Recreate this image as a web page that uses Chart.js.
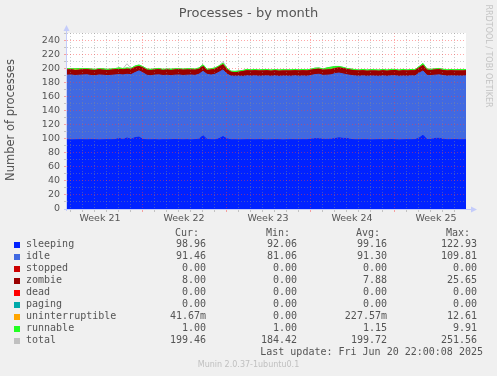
<!DOCTYPE html>
<html>
<head>
<meta charset="utf-8">
<script src="https://cdn.jsdelivr.net/npm/chart.js@4.4.1/dist/chart.umd.min.js"></script>
<style>
  html, body { margin: 0; padding: 0; background: #f0f0f0; }
  #wrap { position: relative; width: 497px; height: 376px; overflow: hidden; }
  #chart { position: absolute; left: 0; top: 0; }
  .txt { position: absolute; white-space: pre; color: #555; font-family: "DejaVu Sans", sans-serif; }
  .mono { font-family: "DejaVu Sans Mono", monospace; font-size: 10px; line-height: 12px; }
  .sq { position: absolute; width: 6px; height: 6px; }
</style>
</head>
<body>
<div id="wrap">
  <canvas id="chart" width="497" height="376"></canvas>
  <div class="txt" style="left:0;width:497px;top:5px;text-align:center;font-size:13px;line-height:16px;">Processes - by month</div>
  <div class="txt" style="left:-90px;width:200px;top:113px;text-align:center;font-size:11.5px;line-height:14px;transform:rotate(-90deg);">Number of processes</div>
  <div class="txt" style="left:428px;width:120px;top:51px;text-align:center;font-size:8px;line-height:10px;color:#c4c4c4;transform:rotate(90deg);">RRDTOOL / TOBI OETIKER</div>
  <div class="txt" style="left:0;width:497px;top:360px;text-align:center;font-size:8px;line-height:10px;color:#c0c0c0;">Munin 2.0.37-1ubuntu0.1</div>
  <div id="legend"></div>
</div>
<script>
// samples every 8 hours, x in days since Mon 19 May 2025 (start of week 21)
const START_DAY = 0.75;
const STEP_DAYS = 1 / 3;

const WEEK_LABELS = ["Week 21", "Week 22", "Week 23", "Week 24", "Week 25"];

const SLEEPING = [
  98.9, 98.7, 98.8, 99.0, 98.9, 98.8, 99.0, 98.9, 98.7, 98.8, 99.0, 98.9, 99.1,
  100.6, 99.3, 101.4, 99.5, 101.9, 102.7, 99.4,
  98.9, 98.8, 99.0, 98.7, 98.9, 98.8, 99.0, 99.2, 98.9, 98.8, 99.0, 98.7, 99.1, 99.6,
  104.8, 99.4, 98.9, 98.8, 100.4, 103.4, 100.1, 98.8,
  98.9, 98.7, 98.8, 99.0, 98.9, 98.8, 99.0, 98.9, 98.7, 98.8, 99.0, 98.9, 98.7, 98.8, 99.0, 98.9, 98.8, 99.0, 98.9,
  99.6, 100.4, 100.2, 99.5, 99.4, 99.6, 100.6, 101.6, 100.9, 100.7, 99.3, 98.9,
  98.8, 99.0, 98.9, 98.7, 98.8, 99.0, 98.9, 98.8, 99.2, 98.9, 98.7, 98.8, 99.0, 98.9, 99.1,
  101.2, 105.3, 99.2, 99.4, 100.8, 100.9, 99.6, 99.0, 98.9, 99.1, 98.8, 98.9, 99.0
];
const IDLE = [
  92.4, 92.8, 91.9, 92.1, 92.6, 92.9, 91.7, 91.5, 92.8, 92.3, 91.6, 92.0, 92.4,
  91.4, 92.2, 91.0, 92.4, 92.9, 94.6, 95.1,
  92.1, 91.6, 92.4, 92.9, 91.8, 92.3, 91.5, 92.0, 92.6, 91.9, 92.2, 92.7, 91.8, 92.9,
  91.9, 93.0, 92.4, 93.6, 95.0, 95.3, 92.6, 91.0,
  90.8, 91.1, 90.6, 91.3, 90.9, 91.4, 90.7, 91.0, 91.5, 90.8, 91.2, 90.6, 91.3, 91.0, 90.7, 91.4, 90.9, 91.1, 90.8,
  91.2, 91.6, 92.3, 91.4, 91.8, 92.0, 92.8, 92.6, 92.1, 91.0, 91.5, 91.2,
  90.9, 91.2, 90.7, 91.4, 91.0, 90.6, 91.3, 90.8, 91.1, 91.5, 90.9, 91.2, 90.7, 91.3, 91.0,
  92.8, 91.9, 91.7, 91.2, 90.4, 90.7, 91.1, 90.8, 91.3, 90.9, 91.2, 91.0, 91.4
];
const STOPPED = [
  0, 0, 0, 0, 0, 0, 0, 0, 0, 0, 0, 0, 0, 0, 0, 0, 0, 0, 0, 0, 0,
  0, 0, 0, 0, 0, 0, 0, 0, 0, 0, 0, 0, 0, 0, 0, 0, 0, 0, 0, 0,
  0, 0, 0, 0, 0, 0, 0, 0, 0, 0, 0, 0, 0, 0, 0, 0, 0, 0, 0, 0,
  0, 0, 0, 0, 0, 0, 0, 0, 0, 0, 0, 0, 0, 0, 0, 0, 0, 0, 0, 0,
  0, 0, 0, 0, 0, 0, 0, 0, 0, 0, 0, 0, 0, 0, 0, 0, 0, 0, 0, 0
];
const ZOMBIE = [
  8, 8, 8, 7.8, 8, 8, 8.2, 8, 8, 7.9, 8, 8, 8, 8, 8.1, 8, 8, 8, 6.9, 7.5, 8,
  8, 8, 8, 7.8, 8, 8, 8, 8, 8.2, 8, 8, 7.9, 8, 8, 6.2, 8, 8, 8, 7.9, 6.8,
  6.1, 5.8, 6.4, 7.6, 8, 8, 8, 8, 8, 7.9, 8, 8, 8, 8, 8.1, 8, 8, 8, 8, 8,
  8, 8, 8, 7.9, 8, 8, 8, 8, 8.3, 8.1, 8, 8, 8, 8, 8, 7.8, 8, 8, 8, 8,
  8, 8, 8, 8.2, 8, 8, 8, 8, 8.6, 8, 8, 8, 8, 8, 7.9, 8, 8, 8, 8, 8
];
const DEAD = [
  0, 0, 0, 0, 0, 0, 0, 0, 0, 0, 0, 0, 0, 0, 0, 0, 0, 0, 0, 0, 0,
  0, 0, 0, 0, 0, 0, 0, 0, 0, 0, 0, 0, 0, 0, 0, 0, 0, 0, 0, 0,
  0, 0, 0, 0, 0, 0, 0, 0, 0, 0, 0, 0, 0, 0, 0, 0, 0, 0, 0, 0,
  0, 0, 0, 0, 0, 0, 0, 0, 0, 0, 0, 0, 0, 0, 0, 0, 0, 0, 0, 0,
  0, 0, 0, 0, 0, 0, 0, 0, 0, 0, 0, 0, 0, 0, 0, 0, 0, 0, 0, 0
];
const PAGING = [
  0, 0, 0, 0, 0, 0, 0, 0, 0, 0, 0, 0, 0, 0, 0, 0, 0, 0, 0, 0, 0,
  0, 0, 0, 0, 0, 0, 0, 0, 0, 0, 0, 0, 0, 0, 0, 0, 0, 0, 0, 0,
  0, 0, 0, 0, 0, 0, 0, 0, 0, 0, 0, 0, 0, 0, 0, 0, 0, 0, 0, 0,
  0, 0, 0, 0, 0, 0, 0, 0, 0, 0, 0, 0, 0, 0, 0, 0, 0, 0, 0, 0,
  0, 0, 0, 0, 0, 0, 0, 0, 0, 0, 0, 0, 0, 0, 0, 0, 0, 0, 0, 0
];
const UNINTERRUPTIBLE = [
  0, 0, 0.6, 0.4, 0, 0, 0, 0, 0, 0, 0, 0, 0, 0, 0, 0, 0, 0.3, 0, 0, 0,
  0, 0, 0, 0, 0, 0, 0, 0, 0, 0, 0, 0, 0, 0, 0, 0, 0, 0, 0.5, 0,
  0, 0, 0, 0, 0, 0, 0, 0, 0, 0, 0, 0, 0, 0, 0, 0, 0, 0, 0, 0,
  0, 0, 0, 0, 0, 0.2, 0, 0, 0, 0, 0, 0, 0, 0, 0, 0, 0, 0, 0, 0,
  0, 0, 0, 0, 0, 0, 0, 0, 0.4, 0, 0, 0, 0, 0, 0, 0, 0, 0, 0, 0
];
const RUNNABLE = [
  1.2, 1.0, 1.1, 1.3, 1.0, 1.0, 1.2, 1.1, 1.0, 1.4, 1.0, 1.1, 1.0, 1.6, 1.0, 1.2, 1.0, 1.1, 1.5, 1.3, 1.0,
  1.1, 1.0, 1.2, 1.0, 1.0, 1.3, 1.1, 1.0, 1.0, 1.2, 1.0, 1.1, 1.0, 1.4, 1.1, 1.0, 1.2, 1.0, 1.3, 1.5,
  1.0, 1.1, 1.0, 1.0, 1.2, 1.0, 1.1, 1.0, 1.3, 1.0, 1.0, 1.1, 1.2, 1.0, 1.0, 1.1, 1.0, 1.2, 1.0, 1.1,
  1.0, 1.2, 1.0, 1.1, 2.4, 2.8, 2.2, 1.4, 1.1, 1.0, 1.2, 1.0, 1.0, 1.1, 1.0, 1.3, 1.0, 1.0, 1.2, 1.0,
  1.1, 1.0, 1.0, 1.2, 1.0, 1.1, 1.0, 1.3, 1.6, 1.1, 1.0, 1.0, 1.2, 1.0, 1.1, 1.0, 1.0, 1.2, 1.0, 1.1
];
const TOTAL = [
  200.5, 200.5, 200.4, 200.6, 200.5, 200.7, 200.1, 199.5, 200.5, 200.4, 199.6, 200.0, 200.5,
  201.6, 200.6, 207.5, 200.9, 204.2, 205.7, 203.3,
  200.0, 199.5, 200.4, 200.8, 199.5, 200.1, 199.8, 200.3, 200.5, 199.9, 200.4, 200.4, 199.9, 201.5,
  206.1, 199.7, 200.3, 201.6, 204.4, 210.8, 201.0, 196.9,
  196.6, 197.2, 198.0, 199.5, 198.8, 199.3, 198.7, 199.2, 199.1, 198.6, 199.3, 198.7, 199.0, 198.9, 198.8, 199.3, 198.9, 199.1, 198.8,
  199.8, 201.2, 201.5, 199.9, 201.6, 202.6, 203.6, 203.6, 202.4, 200.8, 200.0, 199.1,
  198.7, 199.3, 198.6, 199.2, 198.8, 198.6, 199.4, 198.6, 199.4, 199.4, 198.6, 199.4, 198.7, 199.3, 199.1,
  203.3, 207.8, 200.0, 199.6, 200.2, 200.8, 199.7, 198.8, 199.2, 199.0, 199.2, 198.9, 199.5
];

const NAMES = ["sleeping", "idle", "stopped", "zombie", "dead", "paging", "uninterruptible", "runnable", "total"];
const COLORS = ["#0022ff", "#4169e1", "#cc0000", "#990000", "#ff0000", "#00aaaa", "#ffa500", "#22ff22", "#c0c0c0"];
const CUR = ["98.96", "91.46", "0.00", "8.00", "0.00", "0.00", "41.67m", "1.00", "199.46"];
const MIN = ["92.06", "81.06", "0.00", "0.00", "0.00", "0.00", "0.00", "1.00", "184.42"];
const AVG = ["99.16", "91.30", "0.00", "7.88", "0.00", "0.00", "227.57m", "1.15", "199.72"];
const MAX = ["122.93", "109.81", "0.00", "25.65", "0.00", "0.00", "12.61", "9.91", "251.56"];

const RED_GRID = "rgba(255, 60, 60, 0.45)";
const GREY_GRID = "rgba(140, 140, 140, 0.45)";
const AXIS_COLOR = "#c4ccfa";

function toPoints(values) {
  return values.map((v, i) => ({ x: START_DAY + i * STEP_DAYS, y: v }));
}

function drawLegend() {
  let html = "";
  const rightCols = [206, 297, 387, 477];
  const heads = ["Cur:", "Min:", "Avg:", "Max:"];
  heads.forEach((h, k) => {
    html += `<div class="txt mono" style="top:227px;right:${497 - rightCols[k] + 7}px;">${h}</div>`;
  });
  NAMES.forEach((name, i) => {
    const top = 238 + i * 12;
    html += `<div class="sq" style="left:14px;top:${top + 4}px;background:${COLORS[i]};"></div>`;
    html += `<div class="txt mono" style="top:${top}px;left:26px;">${name}</div>`;
    [CUR[i], MIN[i], AVG[i], MAX[i]].forEach((v, k) => {
      html += `<div class="txt mono" style="top:${top}px;right:${497 - rightCols[k]}px;">${v}</div>`;
    });
  });
  html += `<div class="txt mono" style="top:346px;right:14px;">Last update: Fri Jun 20 22:00:08 2025</div>`;
  document.getElementById("legend").innerHTML = html;
}

const plotBackground = {
  id: "plotBackground",
  beforeDraw(chart) {
    const a = chart.chartArea;
    const ctx = chart.ctx;
    ctx.save();
    ctx.fillStyle = "#ffffff";
    ctx.fillRect(a.left, a.top, a.right - a.left, a.bottom - a.top);
    ctx.restore();
  },
};

// rrdtool style axis lines with arrow heads
const axisArrows = {
  id: "axisArrows",
  afterDraw(chart) {
    const a = chart.chartArea;
    const ctx = chart.ctx;
    ctx.save();
    ctx.strokeStyle = AXIS_COLOR;
    ctx.fillStyle = AXIS_COLOR;
    ctx.lineWidth = 1;
    ctx.beginPath();
    ctx.moveTo(a.left - 0.5, a.bottom + 2);
    ctx.lineTo(a.left - 0.5, a.top - 3);
    ctx.moveTo(a.left - 3, a.bottom + 0.5);
    ctx.lineTo(a.right + 6, a.bottom + 0.5);
    ctx.stroke();
    ctx.beginPath();
    ctx.moveTo(a.left - 0.5, a.top - 8);
    ctx.lineTo(a.left - 3.5, a.top - 2);
    ctx.lineTo(a.left + 2.5, a.top - 2);
    ctx.closePath();
    ctx.fill();
    ctx.beginPath();
    ctx.moveTo(a.right + 11, a.bottom + 0.5);
    ctx.lineTo(a.right + 5, a.bottom - 2.5);
    ctx.lineTo(a.right + 5, a.bottom + 3.5);
    ctx.closePath();
    ctx.fill();
    ctx.restore();
  },
};

function drawChart() {
  const stackSeries = [SLEEPING, IDLE, STOPPED, ZOMBIE, DEAD, PAGING, UNINTERRUPTIBLE, RUNNABLE];
  // only sleeping, idle and runnable get an outline; the thin layers stay pure fill
  const outlined = [true, true, false, false, false, false, false, true];
  const datasets = stackSeries.map((values, i) => ({
    label: NAMES[i],
    data: toPoints(values),
    backgroundColor: COLORS[i],
    borderColor: outlined[i] ? COLORS[i] : "rgba(0,0,0,0)",
    borderWidth: 1,
    pointRadius: 0,
    fill: "origin",
    stack: "procs",
    tension: 0,
  }));
  datasets.push({
    label: NAMES[8],
    data: toPoints(TOTAL),
    borderColor: COLORS[8],
    borderWidth: 1,
    pointRadius: 0,
    fill: false,
    stack: "total",
    tension: 0,
  });

  const ctx = document.getElementById("chart").getContext("2d");
  return new Chart(ctx, {
    type: "line",
    data: { datasets: datasets },
    plugins: [plotBackground, axisArrows],
    options: {
      responsive: false,
      animation: false,
      events: [],
      layout: { padding: { left: 0, right: 31, top: 33, bottom: 147 } },
      plugins: {
        legend: { display: false },
        tooltip: { enabled: false },
      },
      scales: {
        x: {
          type: "linear",
          min: 0.75,
          max: 34.0,
          afterBuildTicks: function (scale) {
            const t = [];
            for (let d = 1; d <= 33; d++) t.push({ value: d });
            WEEK_LABELS.forEach((w, k) => t.push({ value: k * 7 + 3.5 }));
            t.sort((a, b) => a.value - b.value);
            scale.ticks = t;
          },
          afterFit: function (scale) {
            scale.height = 20;
          },
          grid: {
            z: 1,
            color: function (c) {
              const v = c.tick ? c.tick.value : 0;
              if (v % 1 !== 0) return "rgba(0,0,0,0)";
              return v % 7 === 0 ? RED_GRID : GREY_GRID;
            },
            tickLength: 3,
          },
          border: { display: false, dash: [1, 2] },
          ticks: {
            autoSkip: false,
            maxRotation: 0,
            padding: 1,
            color: "#555",
            font: { family: "DejaVu Sans", size: 9.5 },
            callback: function (value) {
              if (value % 1 !== 0) return WEEK_LABELS[Math.floor(value / 7)];
              return "";
            },
          },
        },
        y: {
          stacked: true,
          min: 0,
          max: 251.4,
          afterBuildTicks: function (scale) {
            const t = [];
            for (let v = 0; v <= 250; v += 10) t.push({ value: v });
            scale.ticks = t;
          },
          afterFit: function (scale) {
            scale.width = 67;
          },
          grid: {
            z: 1,
            color: function (c) {
              const v = c.tick ? c.tick.value : 0;
              if (v === 0) return "rgba(0,0,0,0)";
              return v % 20 === 0 ? RED_GRID : GREY_GRID;
            },
            tickLength: 3,
          },
          border: { display: false, dash: [1, 2] },
          ticks: {
            autoSkip: false,
            padding: 4,
            color: "#555",
            font: { family: "DejaVu Sans", size: 9.5 },
            callback: function (value) {
              return value % 20 === 0 ? String(value) : "";
            },
          },
        },
      },
    },
  });
}

drawLegend();
drawChart();
</script>
</body>
</html>
